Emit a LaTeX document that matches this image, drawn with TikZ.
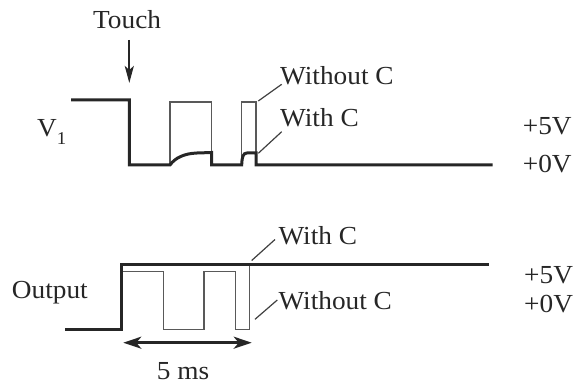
\documentclass[tikz,border=0pt]{standalone}
\usepackage{fontspec}
\setmainfont{Liberation Serif}[FakeStretch=1.05]
\usetikzlibrary{arrows.meta}
\begin{document}
\begin{tikzpicture}[x=1pt,y=-1pt,
  lbl/.style={anchor=base west,inner sep=0pt,font=\fontsize{26}{30}\selectfont,text=black!85},
  thick trace/.style={line width=3pt,black!85,line join=miter},
  thin trace/.style={line width=1.4pt,black!65,line join=miter},
  leader/.style={line width=1.2pt,black!75},
  arr/.style={line width=2.6pt,black!85}]
\useasboundingbox (0,0) rectangle (576,387);
% labels
\node[lbl] (touch) at (93,28.3) {Touch};
\node[lbl] (v1) at (37,136.7) {V\raisebox{-8pt}{\fontsize{18}{20}\selectfont 1}};
\node[lbl] (t5) at (522.7,135) {+5V};
\node[lbl] (t0) at (522.7,172.7) {+0V};
\node[lbl] (twithout) at (280,85) {Without C};
\node[lbl] (twith) at (280,126.7) {With C};
\node[lbl] (out) at (11.7,298.3) {Output};
\node[lbl] (b5) at (524,284) {+5V};
\node[lbl] (b0) at (524,313) {+0V};
\node[lbl] (bwith) at (278.3,245) {With C};
\node[lbl] (bwithout) at (278.3,310) {Without C};
\node[lbl] (ms) at (156.7,380) {5 ms};
% touch arrow
\coordinate (ta) at (129.3,40);
\coordinate (tb) at (129.3,83);
\draw[arr,line width=2.2pt,-{Stealth[length=17pt,width=9pt,inset=4pt]}] (ta) -- (tb);
% top waveform: without C (thin)
\draw[thin trace] (170,165) -- (170,102) -- (211.7,102) -- (211.7,165);
\draw[thin trace] (241.7,165) -- (241.7,102) -- (256,102) -- (256,165);
% top waveform: with C (thick)
\draw[thick trace] (71,100) -- (129.3,100) -- (129.3,165) -- (170,165)
  .. controls (175,158) and (184,153.5) .. (197,153) -- (211.7,152.5) -- (211.7,165)
  -- (241.7,165) .. controls (242,157) and (243,153) .. (247,153) -- (256,153) -- (256,165)
  -- (492.7,165);
% top leaders
\coordinate (lw1) at (258.3,101);
\coordinate (lw2) at (281.7,84.3);
\coordinate (lc1) at (258.3,153.3);
\coordinate (lc2) at (281.7,131.7);
\draw[leader] (lw1) -- (lw2);
\draw[leader] (lc1) -- (lc2);
% bottom waveform: without C (thin)
\draw[thin trace] (123,271.7) -- (163.3,271.7) -- (163.3,329.3) -- (204,329.3) -- (204,271.7)
  -- (235.5,271.7) -- (235.5,329.3) -- (249.5,329.3) -- (249.5,265);
% bottom waveform: with C (thick)
\draw[thick trace] (65,329.3) -- (121.7,329.3) -- (121.7,265) -- (489,265);
% bottom leaders
\coordinate (bc1) at (251.7,260.5);
\coordinate (bc2) at (275,239.5);
\coordinate (bw1) at (255,319.3);
\coordinate (bw2) at (277.3,300);
\draw[leader] (bc1) -- (bc2);
\draw[leader] (bw1) -- (bw2);
% 5 ms arrow
\coordinate (m1) at (123.3,342.7);
\coordinate (m2) at (251.7,342.7);
\draw[arr,{Stealth[length=18pt,width=12pt,inset=5pt]}-{Stealth[length=18pt,width=12pt,inset=5pt]}] (m1) -- (m2);
\end{tikzpicture}
\end{document}
